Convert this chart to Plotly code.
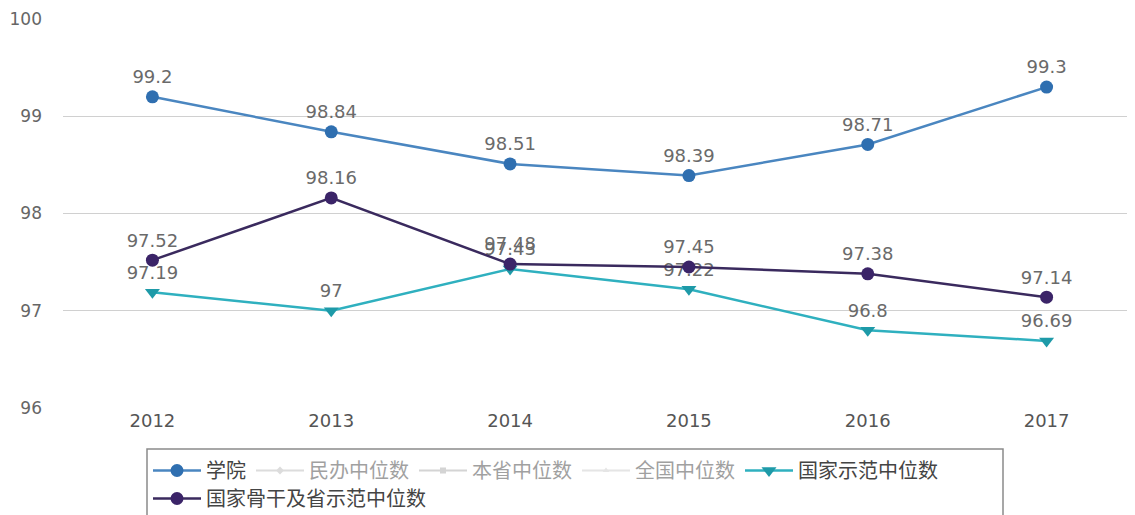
import plotly.graph_objects as go

years = ["2012", "2013", "2014", "2015", "2016", "2017"]
college = [99.2, 98.84, 98.51, 98.39, 98.71, 99.3]
national_demo = [97.19, 97.0, 97.43, 97.22, 96.8, 96.69]
national_backbone = [97.52, 98.16, 97.48, 97.45, 97.38, 97.14]
private_median = [None] * 6
province_median = [None] * 6
national_median = [None] * 6
y_ticks = [96, 97, 98, 99, 100]

fig = go.Figure()
lbl_font = dict(family="DejaVu Sans", size=18, color="#6a6a6a")

fig.add_trace(go.Scatter(
    x=years, y=college, name="学院", mode="lines+markers+text", legend="legend",
    text=[str(v) for v in college], textposition="top center", textfont=lbl_font,
    line=dict(color="#4a86c0", width=2.5),
    marker=dict(symbol="circle", size=13, color="#2f6fb0")))
fig.add_trace(go.Scatter(
    x=years, y=private_median, name="民办中位数", mode="lines+markers", legend="legend",
    visible="legendonly", line=dict(color="#bbbbbb"), marker=dict(symbol="diamond", color="#bbbbbb")))
fig.add_trace(go.Scatter(
    x=years, y=province_median, name="本省中位数", mode="lines+markers", legend="legend",
    visible="legendonly", line=dict(color="#aaaaaa"), marker=dict(symbol="square", color="#aaaaaa")))
fig.add_trace(go.Scatter(
    x=years, y=national_median, name="全国中位数", mode="lines+markers", legend="legend",
    visible="legendonly", line=dict(color="#cccccc"), marker=dict(symbol="triangle-up", color="#cccccc")))
fig.add_trace(go.Scatter(
    x=years, y=national_demo, name="国家示范中位数", mode="lines+markers+text", legend="legend",
    text=[f"{v:g}" for v in national_demo], textposition="top center", textfont=lbl_font,
    line=dict(color="#2fb0bf", width=2.5),
    marker=dict(symbol="triangle-down", size=13, color="#1e9aa8")))
fig.add_trace(go.Scatter(
    x=years, y=national_backbone, name="国家骨干及省示范中位数", mode="lines+markers+text",
    legend="legend2",
    text=[f"{v:g}" for v in national_backbone], textposition="top center", textfont=lbl_font,
    line=dict(color="#3a2a5e", width=2.5),
    marker=dict(symbol="circle", size=13, color="#3b2468")))

# the page body adds an 8px offset; positions below are in screen pixels
OFF = 8
W, H = 1135, 515
L, R, T, B = 63 - OFF, OFF - 1, 19 - OFF, 515 - 408 + OFF
pw, ph = W - L - R, H - T - B


def px_x(x):
    return (x - OFF - L) / pw


def px_y(y):
    return (H - B - (y - OFF)) / ph


leg_font = dict(family="Noto Sans CJK SC", size=20, color="#444444")

fig.update_layout(
    width=W, height=H,
    margin=dict(l=L, r=R, t=T, b=B, autoexpand=False),
    plot_bgcolor="white", paper_bgcolor="white",
    font=dict(family="Noto Sans CJK SC, DejaVu Sans", color="#555555"),
    xaxis=dict(type="category", range=[-0.5, 5.5], showgrid=False, showline=False,
               ticks="", tickfont=dict(family="DejaVu Sans", size=18, color="#555555")),
    yaxis=dict(range=[96, 100], tickvals=y_ticks, showgrid=True, gridcolor="#d0d0d0",
               gridwidth=1, zeroline=False, showline=False, ticks="",
               ticklabelstandoff=20,
               tickfont=dict(family="DejaVu Sans", size=17, color="#666666")),
    showlegend=True,
    legend=dict(orientation="h", x=px_x(148), xanchor="left", y=px_y(451), yanchor="top",
                borderwidth=0, bgcolor="rgba(0,0,0,0)", font=leg_font,
                itemwidth=48, tracegroupgap=0),
    legend2=dict(orientation="h", x=px_x(148), xanchor="left", y=px_y(479), yanchor="top",
                 borderwidth=0, bgcolor="rgba(0,0,0,0)", font=leg_font,
                 itemwidth=48, tracegroupgap=0),
    shapes=[dict(type="rect", xref="paper", yref="paper",
                 x0=px_x(147), x1=px_x(1003), y0=px_y(535), y1=px_y(449),
                 line=dict(color="#8a8a8a", width=1.5), fillcolor="rgba(0,0,0,0)",
                 layer="below")],
)

fig.write_html("out.html")
